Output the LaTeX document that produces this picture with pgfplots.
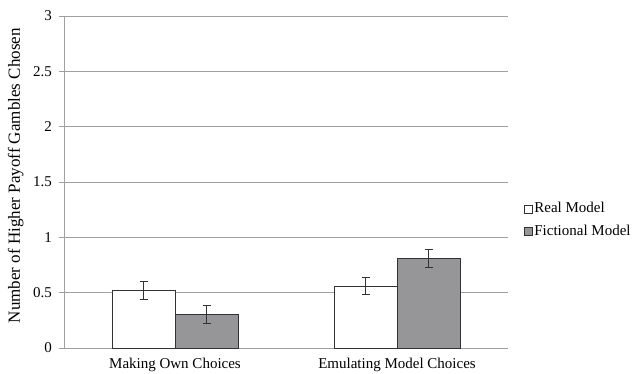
\documentclass[border=0pt]{standalone}
\usepackage{pgfplots}
\pgfplotsset{compat=1.18}
\usepackage{fontspec}
\setmainfont{Liberation Serif}
\definecolor{gridc}{RGB}{160,160,160}
\definecolor{fict}{RGB}{150,150,152}
\definecolor{edge}{RGB}{50,50,50}
\begin{document}
\fontsize{15pt}{18pt}\selectfont
\begin{tikzpicture}
\useasboundingbox (0,0) rectangle (635pt,373pt);
\begin{axis}[
  at={(64pt,25pt)}, anchor=south west,
  scale only axis, width=444pt, height=332pt,
  ybar=0pt, bar width=63pt,
  xmin=-0.5, xmax=1.5, ymin=0, ymax=3,
  xtick={0,1}, xticklabels={Making Own Choices, Emulating Model Choices},
  minor xtick={-0.5,0.5,1.5},
  ytick={0,0.5,1,1.5,2,2.5,3},
  yticklabels={0,0.5,1,1.5,2,2.5,3},
  axis x line*=bottom, axis y line*=left,
  axis line style={gridc, line width=0.8pt, -},
  x tick style={draw=none},
  minor x tick style={gridc, line width=0.8pt},
  y tick style={gridc, line width=0.8pt},
  tick align=outside, major tick length=5pt, minor tick length=5pt,
  ymajorgrids, grid style={gridc, line width=0.8pt},
  yticklabel style={xshift=-2pt},
  ylabel={Number of Higher Payoff Gambles Chosen},
  ylabel style={at={(axis description cs:0,0.519)}, anchor=base, yshift=44pt,
    font=\fontsize{17pt}{20pt}\selectfont},
  /pgf/number format/assume math mode=true,
  legend style={at={(1.035,0.385)}, anchor=west, draw=none, fill=none,
    row sep=6pt, font=\fontsize{15pt}{18pt}\selectfont, inner sep=0pt},
  legend cell align=left,
  legend image code/.code={\draw[#1, line width=0.6pt] (0pt,-4pt) rectangle (8pt,4pt);},
  error bars/y dir=both, error bars/y explicit,
  error bars/error bar style={edge, line width=0.9pt},
  error bars/error mark options={rotate=90, mark size=4pt, edge, line width=0.9pt},
]
\addplot[fill=white, draw=edge, line width=0.8pt] coordinates {(0,0.52) +- (0,0.08) (1,0.56) +- (0,0.08)};
\addplot[fill=fict, draw=edge, line width=0.8pt] coordinates {(0,0.30) +- (0,0.08) (1,0.81) +- (0,0.08)};
\legend{Real Model, Fictional Model}
\end{axis}
\end{tikzpicture}
\end{document}
